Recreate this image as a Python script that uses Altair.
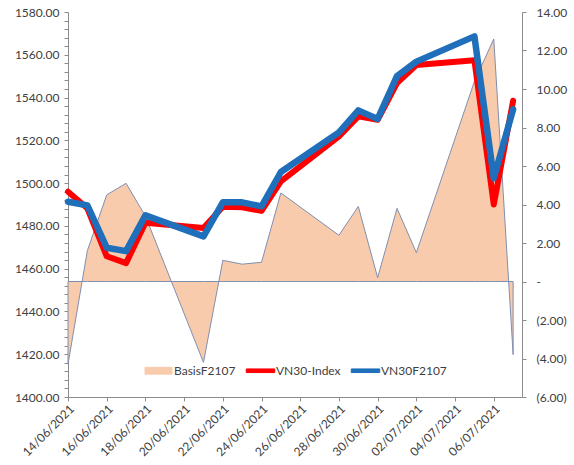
import altair as alt
import pandas as pd

# Trading sessions (UTC dates)
dates = [
    "2021-06-14", "2021-06-15", "2021-06-16", "2021-06-17", "2021-06-18",
    "2021-06-21", "2021-06-22", "2021-06-23", "2021-06-24", "2021-06-25",
    "2021-06-28", "2021-06-29", "2021-06-30", "2021-07-01", "2021-07-02",
    "2021-07-05", "2021-07-06", "2021-07-07",
]
vn30_index = [
    1496.0, 1488.2, 1465.8, 1462.6, 1481.5,
    1479.0, 1489.0, 1488.7, 1487.0, 1500.8,
    1521.8, 1531.2, 1529.6, 1546.8, 1555.2,
    1557.4, 1490.0, 1538.5,
]
vn30f2107 = [
    1491.3, 1489.6, 1469.8, 1468.2, 1484.9,
    1475.1, 1491.0, 1491.0, 1489.1, 1505.2,
    1523.7, 1534.0, 1530.0, 1550.0, 1556.8,
    1568.6, 1502.3, 1534.5,
]
basis_f2107 = [
    -4.3, 1.6, 4.5, 5.1, 3.4,
    -4.2, 1.1, 0.9, 1.0, 4.6,
    2.4, 3.9, 0.2, 3.8, 1.5,
    10.4, 12.6, -3.8,
]

series_names = ["BasisF2107", "VN30-Index", "VN30F2107"]
series_colors = ["#F8CBAD", "#FF0000", "#1F6FBA"]

FONT = "Lato"
TEXT = "#404040"
AXIS_GRAY = "#8C8C8C"
OUTLINE = "#7F8FB0"

basis_df = pd.DataFrame({"date": dates, "value": basis_f2107, "series": "BasisF2107"})
index_df = pd.DataFrame({"date": dates, "value": vn30_index, "series": "VN30-Index"})
fut_df = pd.DataFrame({"date": dates, "value": vn30f2107, "series": "VN30F2107"})

def ms(d):
    return int(pd.Timestamp(d, tz="UTC").value // 10**6)

tick_days = pd.date_range("2021-06-14", "2021-07-06", freq="2D")
tick_values = [ms(d) for d in tick_days]
x_domain = [ms("2021-06-14"), ms("2021-07-07 11:00")]

x_enc = alt.X(
    "date:T",
    scale=alt.Scale(type="utc", domain=x_domain),
    axis=alt.Axis(
        values=tick_values, labelExpr="utcFormat(datum.value, '%d/%m/%Y')",
        labelAngle=315, title=None, grid=False, tickSize=4,
        labelFont=FONT, labelFontSize=12, labelColor=TEXT,
        domainColor=AXIS_GRAY, tickColor=AXIS_GRAY, labelOverlap=False,
        labelPadding=2,
    ),
)

# legend swatches: a framed box for the area, thinner bars for the lines
is_basis = "datum.value === 'BasisF2107'"
box_path = "M-0.9,-0.23H0.9V0.23H-0.9Z"
bar_path = "M-0.95,-0.12H0.95V0.12H-0.95Z"
series_scale = alt.Scale(domain=series_names, range=series_colors)

color_enc = alt.Color(
    "series:N",
    scale=series_scale,
    legend=alt.Legend(
        title=None, orient="none", direction="horizontal",
        legendX=75, legendY=343,
        symbolType=alt.ExprRef(is_basis + " ? '" + box_path + "' : '" + bar_path + "'"),
        symbolSize=900,
        symbolFillColor=alt.ExprRef("scale('color', datum.value)"),
        symbolStrokeColor=alt.ExprRef(is_basis + " ? '" + OUTLINE + "' : scale('color', datum.value)"),
        symbolStrokeWidth=1,
        symbolOpacity=1,
        labelFont=FONT, labelFontSize=12, labelColor=TEXT,
        labelOffset=0, columnPadding=8,
    ),
)
stroke_enc = alt.Stroke("series:N", scale=series_scale, legend=None)

basis_area = alt.Chart(basis_df).mark_area(
    stroke=OUTLINE, strokeWidth=1, opacity=1, fillOpacity=1
).encode(
    x=x_enc,
    y=alt.Y(
        "value:Q",
        scale=alt.Scale(domain=[-6, 14], nice=False, zero=False),
        axis=alt.Axis(
            orient="right", values=list(range(-6, 15, 2)), title=None, grid=False,
            labelExpr="datum.value < 0 ? '(' + format(-datum.value, '.2f') + ')' : (datum.value === 0 ? '-' : format(datum.value, '.2f'))",
            tickSize=4, labelPadding=10, labelFont=FONT, labelFontSize=12,
            labelColor=TEXT, domainColor=AXIS_GRAY, tickColor=AXIS_GRAY,
            labelOverlap=False,
        ),
    ),
    y2=alt.datum(0),
    color=color_enc,
)

y_left = alt.Y(
    "value:Q",
    scale=alt.Scale(domain=[1400, 1580], nice=False, zero=False),
    axis=alt.Axis(
        orient="left", values=list(range(1400, 1581, 4)), title=None, grid=False,
        labelExpr="datum.value % 20 === 0 ? format(datum.value, '.2f') : ''",
        tickSize=4, labelPadding=5, labelFont=FONT, labelFontSize=12,
        labelColor=TEXT, domainColor=AXIS_GRAY, tickColor=AXIS_GRAY,
        labelOverlap=False,
    ),
)

index_line = alt.Chart(index_df).mark_line(
    strokeWidth=6, strokeJoin="round", strokeCap="round"
).encode(x=x_enc, y=y_left, stroke=stroke_enc)

fut_line = alt.Chart(fut_df).mark_line(
    strokeWidth=6.5, strokeJoin="round", strokeCap="round"
).encode(x=x_enc, y=y_left, stroke=stroke_enc)

lines = alt.layer(index_line, fut_line)

chart = alt.layer(basis_area, lines).resolve_scale(
    y="independent"
).properties(
    width=454, height=385,
    autosize=alt.AutoSizeParams(type="none"),
    padding={"left": 68, "top": 12, "right": 52, "bottom": 68},
    background="white",
).configure_view(stroke=None)

chart.save("out.html", embed_options={"renderer": "svg", "actions": False})
